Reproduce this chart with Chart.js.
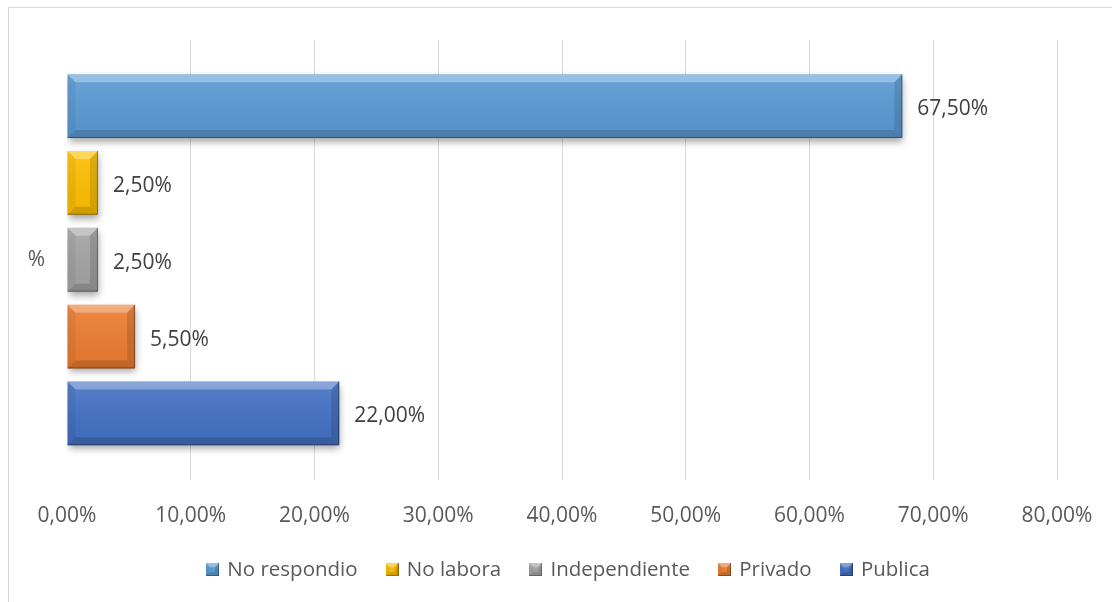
<!DOCTYPE html>
<html><head><meta charset="utf-8">
<script src="https://cdn.jsdelivr.net/npm/chart.js@4/dist/chart.umd.min.js"></script>
<style>
html,body{margin:0;padding:0;background:#fff;}
#wrap{position:relative;width:1112px;height:602px;overflow:hidden;}
#frame{position:absolute;left:8px;top:7px;width:1200px;height:700px;border:1px solid #d9d9d9;box-sizing:border-box;}
canvas{position:absolute;left:0;top:0;}
</style></head><body>
<div id="wrap"><div id="frame"></div><canvas id="c" width="1112" height="602"></canvas></div>
<script>
const categories = ['%'];
const seriesNames = ['No respondio', 'No labora', 'Independiente', 'Privado', 'Publica'];
const noRespondio = [67.5];
const noLabora = [2.5];
const independiente = [2.5];
const privado = [5.5];
const publica = [22.0];
const xMin = 0, xMax = 80, xStep = 10;
const seriesColors = ['#5B9BD5', '#FFC000', '#A5A5A5', '#ED7D31', '#4472C4'];

const seriesValues = [noRespondio, noLabora, independiente, privado, publica];
const fmt = v => v.toFixed(2).replace('.', ',') + '%';

function drawBevel(ctx, x0, y0, x1, y1, b) {
  b = Math.min(b, (x1 - x0) / 2, (y1 - y0) / 2);
  const poly = (pts, fill) => {
    ctx.beginPath(); ctx.moveTo(pts[0][0], pts[0][1]);
    for (let i = 1; i < pts.length; i++) ctx.lineTo(pts[i][0], pts[i][1]);
    ctx.closePath(); ctx.fillStyle = fill; ctx.fill();
  };
  const g = ctx.createLinearGradient(0, y0, 0, y1);
  g.addColorStop(0, 'rgba(255,255,255,0.10)');
  g.addColorStop(1, 'rgba(0,0,0,0.05)');
  ctx.fillStyle = g; ctx.fillRect(x0, y0, x1 - x0, y1 - y0);
  poly([[x0,y0],[x1,y0],[x1-b,y0+b],[x0+b,y0+b]], 'rgba(255,255,255,0.30)');
  poly([[x0,y0],[x0+b,y0+b],[x0+b,y1-b],[x0,y1]], 'rgba(0,0,0,0.05)');
  poly([[x0,y1],[x0+b,y1-b],[x1-b,y1-b],[x1,y1]], 'rgba(0,0,0,0.14)');
  poly([[x1,y0],[x1,y1],[x1-b,y1-b],[x1-b,y0+b]], 'rgba(0,0,0,0.12)');
  ctx.strokeStyle = 'rgba(0,0,0,0.35)'; ctx.lineWidth = 1;
  ctx.beginPath();
  ctx.moveTo(x1 - 0.5, y0); ctx.lineTo(x1 - 0.5, y1 - 0.5); ctx.lineTo(x0, y1 - 0.5);
  ctx.stroke();
}

function legendIcon(color) {
  const cv = document.createElement('canvas');
  cv.width = 13; cv.height = 13;
  const c = cv.getContext('2d');
  c.fillStyle = color; c.fillRect(0, 0, 13, 13);
  drawBevel(c, 0, 0, 13, 13, 4);
  return cv;
}

const bevelPlugin = {
  id: 'bevel',
  beforeDatasetsDraw(chart) {
    const ctx = chart.ctx;
    ctx.save();
    ctx.shadowColor = 'rgba(0,0,0,0.35)';
    ctx.shadowBlur = 7; ctx.shadowOffsetX = 1; ctx.shadowOffsetY = 4;
  },
  afterDatasetsDraw(chart) {
    const ctx = chart.ctx;
    ctx.restore();
    ctx.save();
    chart.data.datasets.forEach((ds, i) => {
      const meta = chart.getDatasetMeta(i);
      meta.data.forEach((el, j) => {
        const p = el.getProps(['x', 'y', 'base', 'height'], true);
        const x0 = Math.min(p.x, p.base), x1 = Math.max(p.x, p.base);
        const y0 = p.y - p.height / 2, y1 = p.y + p.height / 2;
        drawBevel(ctx, x0, y0, x1, y1, 8);
        ctx.fillStyle = '#404040';
        ctx.font = "21px 'Open Sans', sans-serif";
        ctx.textAlign = 'left'; ctx.textBaseline = 'middle';
        ctx.fillText(fmt(ds.data[j]), x1 + 15, p.y + 3);
      });
    });
    ctx.restore();
  }
};

Chart.defaults.font.family = "'Open Sans', sans-serif";
Chart.defaults.font.size = 21;
Chart.defaults.color = '#595959';

new Chart(document.getElementById('c'), {
  type: 'bar',
  data: {
    labels: categories,
    datasets: seriesNames.map((name, i) => ({
      label: name,
      data: seriesValues[i],
      backgroundColor: seriesColors[i],
      borderWidth: 0,
      categoryPercentage: 0.874,
      barPercentage: 0.83,
      pointStyle: legendIcon(seriesColors[i])
    }))
  },
  options: {
    indexAxis: 'y',
    responsive: false,
    animation: false,
    devicePixelRatio: 1,
    layout: { padding: { top: 40, left: 26, right: 0, bottom: 12 } },
    plugins: {
      legend: {
        position: 'bottom',
        labels: { usePointStyle: true, pointStyleWidth: 9, boxWidth: 13, boxHeight: 13, padding: 30, color: '#595959', font: { size: 20.5 } }
      },
      tooltip: { enabled: false }
    },
    scales: {
      x: {
        min: xMin, max: xMax,
        ticks: { stepSize: xStep, padding: 24, callback: v => fmt(v), color: '#595959' },
        grid: { drawTicks: false, color: c => (c.tick && c.tick.value === 0) ? 'rgba(0,0,0,0)' : '#d9d9d9' },
        border: { display: false },
        afterFit(s) { s.height = 50; s.paddingRight = 55; }
      },
      y: {
        ticks: { padding: 14, color: '#595959' },
        grid: { display: false },
        border: { display: false },
        afterFit(s) { s.width = 41; }
      }
    }
  },
  plugins: [bevelPlugin]
});
</script>
</body></html>
